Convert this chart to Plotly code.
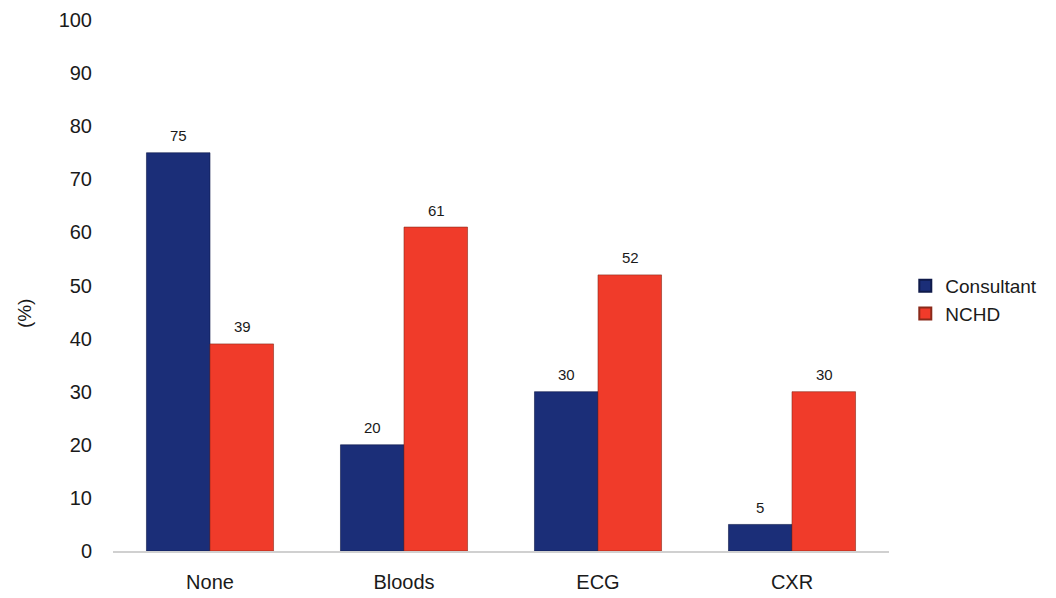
import plotly.graph_objects as go

categories = ["None", "Bloods", "ECG", "CXR"]
consultant = [75, 20, 30, 5]
nchd = [39, 61, 52, 30]
y_ticks = [0, 10, 20, 30, 40, 50, 60, 70, 80, 90, 100]

BLUE = "#1b2e78"
RED = "#f03b2a"
FONT = "Liberation Sans, Arial, sans-serif"

MARGIN_L, MARGIN_R = 113, 167
PLOT_W = 1056 - MARGIN_L - MARGIN_R

fig = go.Figure()
fig.add_trace(go.Bar(
    name="Consultant", x=categories, y=consultant,
    marker=dict(color=BLUE, line=dict(color="#0f1a4a", width=0.6)),
))
fig.add_trace(go.Bar(
    name="NCHD", x=categories, y=nchd,
    marker=dict(color=RED, line=dict(color="#8a2a1a", width=0.6)),
))

# value labels above each bar, shifted to the left/right bar of each group
annotations = []
for series, shift in ((consultant, -32), (nchd, 32)):
    for cat, val in zip(categories, series):
        annotations.append(dict(
            x=cat, y=val, xref="x", yref="y", text=str(val),
            showarrow=False, xshift=shift, yshift=17, yanchor="middle",
            font=dict(size=15, color="#1a1a1a", family=FONT),
        ))

# rotated axis title, placed at a fixed pixel column left of the tick labels
annotations.append(dict(
    x=(24 - MARGIN_L) / PLOT_W, y=0.448, xref="paper", yref="paper", text="(%)",
    showarrow=False, textangle=-90, xanchor="center", yanchor="middle",
    font=dict(size=19, color="#1a1a1a", family=FONT),
))

fig.update_layout(
    width=1056, height=598,
    margin=dict(l=MARGIN_L, r=MARGIN_R, t=20, b=47),
    paper_bgcolor="white", plot_bgcolor="white",
    font=dict(family=FONT, size=20, color="#1a1a1a"),
    barmode="group", bargap=0.345, bargroupgap=0,
    showlegend=True,
    legend=dict(x=1.021, y=0.473, xanchor="left", yanchor="middle",
                font=dict(size=19), itemsizing="constant", tracegroupgap=2),
    annotations=annotations,
    xaxis=dict(showline=True, linecolor="#d0d0d0", linewidth=1.5, automargin=False,
               ticks="", ticklabelstandoff=12, showgrid=False),
    yaxis=dict(range=[0, 100], tickvals=y_ticks, showgrid=False, zeroline=False,
               automargin=False, showline=False, ticks="", ticklabelstandoff=20),
)

fig.write_html("out.html")
